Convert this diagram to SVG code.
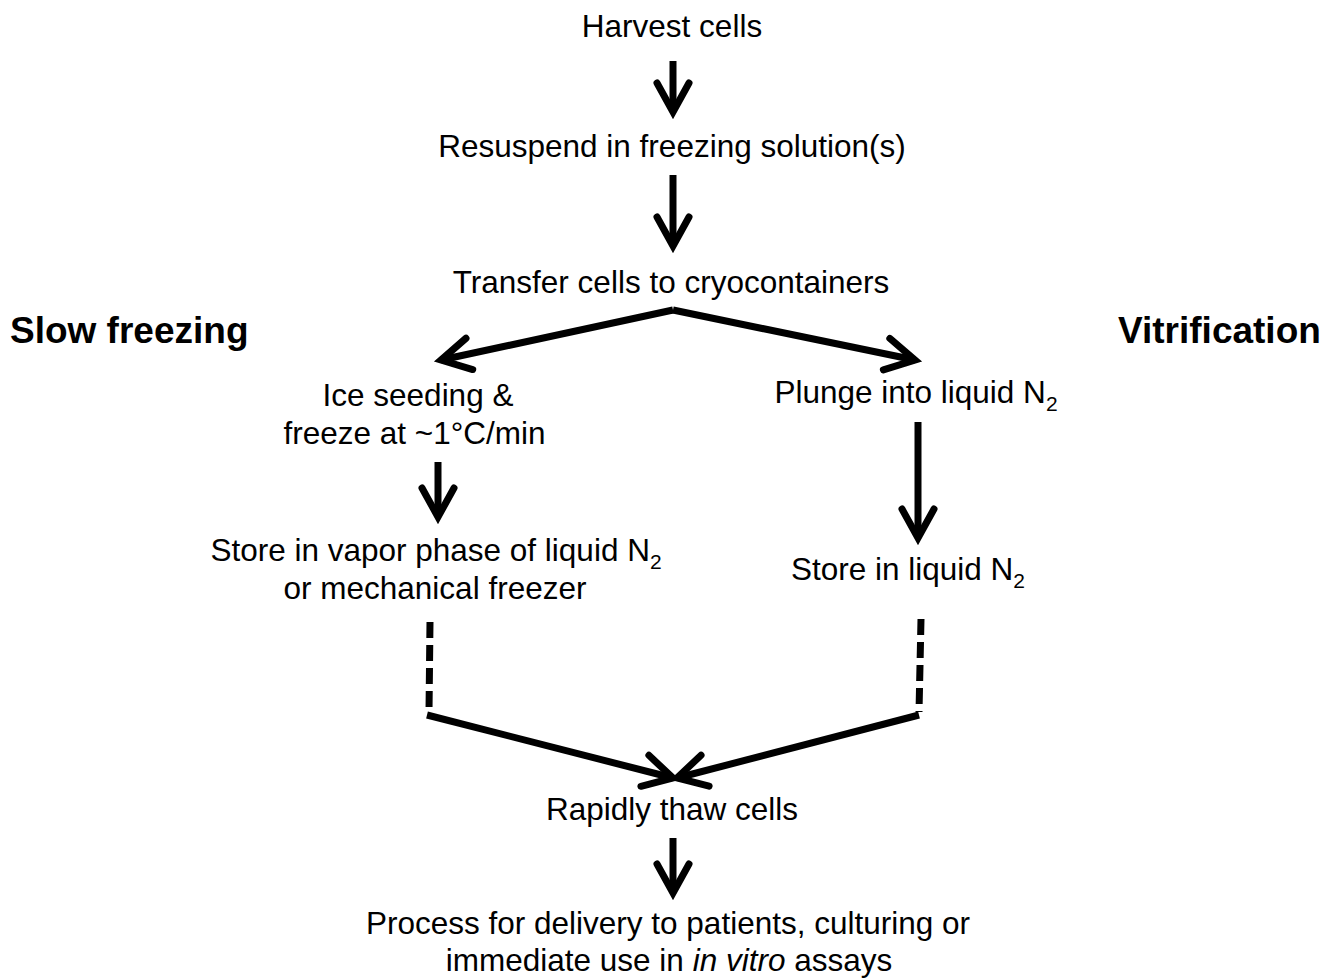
<svg xmlns="http://www.w3.org/2000/svg" width="1326" height="980" viewBox="0 0 1326 980">
<style>
.t{font-family:"Liberation Sans",Arial,sans-serif;font-size:31.5px;fill:#000;text-anchor:middle}
.h{font-family:"Liberation Sans",Arial,sans-serif;font-size:37px;font-weight:bold;fill:#000}
.sub{font-size:21px}
.ln{fill:none;stroke:#000;stroke-width:7}
.ar{marker-end:url(#ah)}
.dash{stroke-dasharray:16 7}
</style>
<defs>
<marker id="ah" markerUnits="userSpaceOnUse" orient="auto" overflow="visible" refX="0" refY="0" markerWidth="1" markerHeight="1">
<path d="M-29,-16 L0,0 L-29,16" fill="none" stroke="#000" stroke-width="7" stroke-linecap="round" stroke-linejoin="miter"/>
</marker>
</defs>
<rect width="1326" height="980" fill="#fff"/>
<g id="harvest"><text class="t" x="672" y="36.5">Harvest cells</text></g>
<g id="resuspend"><text class="t" x="672" y="156.5">Resuspend in freezing solution(s)</text></g>
<g id="transfer"><text class="t" x="671" y="293">Transfer cells to cryocontainers</text></g>
<g id="slow"><text class="h" x="10" y="343">Slow freezing</text></g>
<g id="vitrification"><text class="h" x="1118" y="343">Vitrification</text></g>
<g id="iceseed"><text class="t" x="418" y="406">Ice seeding &amp;</text><text class="t" x="414.5" y="444">freeze at ~1°C/min</text></g>
<g id="plunge"><text class="t" x="916" y="403">Plunge into liquid N<tspan class="sub" dy="8">2</tspan></text></g>
<g id="storevapor"><text class="t" x="436" y="561">Store in vapor phase of liquid N<tspan class="sub" dy="8">2</tspan></text><text class="t" x="435" y="599">or mechanical freezer</text></g>
<g id="storeliquid"><text class="t" x="908" y="580">Store in liquid N<tspan class="sub" dy="8">2</tspan></text></g>
<g id="thaw"><text class="t" x="672" y="820">Rapidly thaw cells</text></g>
<g id="process"><text class="t" x="668" y="934">Process for delivery to patients, culturing or</text><text class="t" x="669" y="971">immediate use in <tspan font-style="italic">in vitro</tspan> assays</text></g>
<g id="connectors">
<path class="ln ar" d="M673,61 L673,112"/>
<path class="ln ar" d="M673,175 L673,246"/>
<path class="ln ar" d="M673,310 L441,360"/>
<path class="ln ar" d="M673,310 L915,360"/>
<path class="ln ar" d="M438,462 L438,517"/>
<path class="ln ar" d="M918,422 L918,538"/>
<path class="ln dash" d="M430,622 L429,712"/>
<path class="ln dash" d="M921,619 L919,712"/>
<path class="ln ar" d="M427,715 L673,778"/>
<path class="ln ar" d="M919,715 L677,778"/>
<path class="ln ar" d="M673,838 L673,893"/>
</g>
</svg>
